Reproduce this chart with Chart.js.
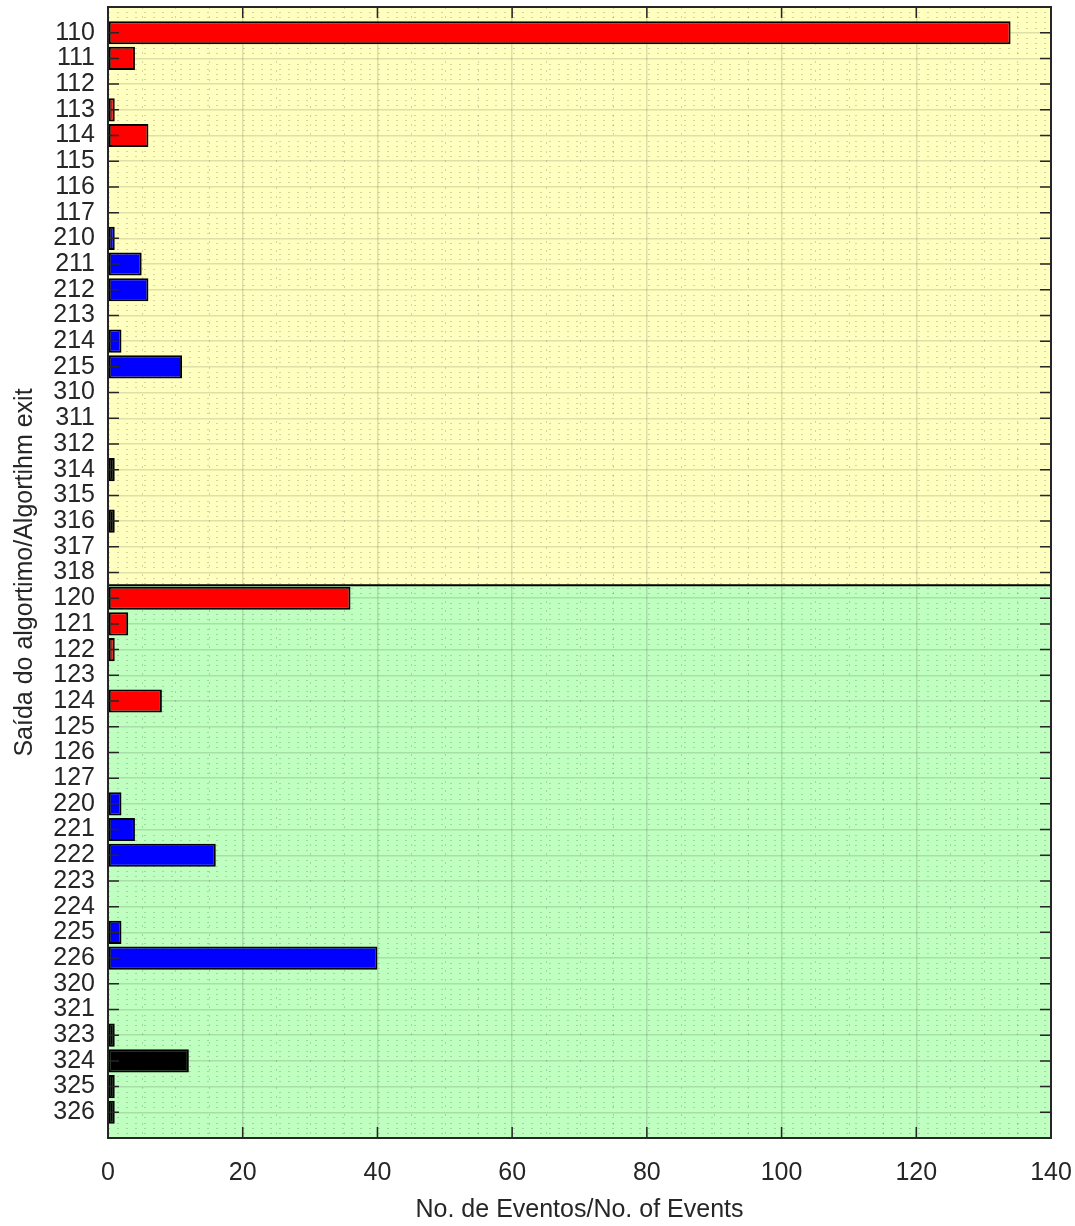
<!DOCTYPE html>
<html>
<head>
<meta charset="utf-8">
<script src="https://cdn.jsdelivr.net/npm/chart.js@4.4.0/dist/chart.umd.min.js"></script>
<style>
  html, body { margin: 0; padding: 0; background: #fff; }
  #wrap { width: 1075px; height: 1226px; position: relative; }
</style>
</head>
<body>
<div id="wrap"><canvas id="exitChart"></canvas></div>
<script>
// algorithm exit codes, top to bottom
var exitCodes = ['110','111','112','113','114','115','116','117',
                 '210','211','212','213','214','215',
                 '310','311','312','314','315','316','317','318',
                 '120','121','122','123','124','125','126','127',
                 '220','221','222','223','224','225','226',
                 '320','321','323','324','325','326'];
var eventCounts = [134,4,0,1,6,0,0,0,
                   1,5,6,0,2,11,
                   0,0,0,1,0,1,0,0,
                   36,3,1,0,8,0,0,0,
                   2,4,16,0,0,2,40,
                   0,0,1,12,1,1];
var xTicks = [0,20,40,60,80,100,120,140];
var topGroupSize = 22; // codes x1x sit in the yellow band, x2x in the green one

var textColor = '#262626';
var fontFamily = '"Liberation Sans", Arial, Helvetica, sans-serif';
var groupColors = { '1': '#ff0000', '2': '#0000ff', '3': '#000000' };

var points = eventCounts.map(function (v, i) { return { x: v, y: i + 1 }; });
var barColors = exitCodes.map(function (c) { return groupColors[c.charAt(0)]; });

var panelPlugin = {
    id: 'panels',
    beforeDraw: function (chart) {
        var ctx = chart.ctx, a = chart.chartArea;
        var split = chart.scales.y.getPixelForValue(topGroupSize + 0.5);
        ctx.save();
        ctx.fillStyle = '#ffffbf';
        ctx.fillRect(a.left, a.top, a.width, split - a.top);
        ctx.fillStyle = '#bfffbf';
        ctx.fillRect(a.left, split, a.width, a.bottom - split);
        ctx.restore();
    },
    beforeDatasetsDraw: function (chart) {
        // dotted minor grid
        var ctx = chart.ctx, a = chart.chartArea, xs = chart.scales.x, ys = chart.scales.y;
        ctx.save();
        ctx.strokeStyle = 'rgba(60,60,60,0.22)';
        ctx.lineWidth = 1;
        ctx.setLineDash([2, 7]);
        for (var v = 5; v < 140; v += 5) {
            if (v % 20 === 0) continue;
            var px = Math.round(xs.getPixelForValue(v)) + 0.5;
            ctx.beginPath(); ctx.moveTo(px, a.top); ctx.lineTo(px, a.bottom); ctx.stroke();
        }
        for (var k = 1; k < 220; k++) {
            if (k % 5 === 0) continue;
            var py = Math.round(ys.getPixelForValue(k / 5)) + 0.5;
            ctx.beginPath(); ctx.moveTo(a.left, py); ctx.lineTo(a.right, py); ctx.stroke();
        }
        ctx.restore();
    },
    afterDatasetsDraw: function (chart) {
        var ctx = chart.ctx, a = chart.chartArea, xs = chart.scales.x, ys = chart.scales.y;
        var split = ys.getPixelForValue(topGroupSize + 0.5);
        ctx.save();
        ctx.strokeStyle = '#000';
        ctx.lineWidth = 2;
        ctx.beginPath(); ctx.moveTo(a.left, split); ctx.lineTo(a.right, split); ctx.stroke();

        // inward ticks
        ctx.strokeStyle = textColor;
        ctx.lineWidth = 1.5;
        var len = 11;
        exitCodes.forEach(function (c, i) {
            var py = ys.getPixelForValue(i + 1);
            ctx.beginPath();
            ctx.moveTo(a.left, py); ctx.lineTo(a.left + len, py);
            ctx.moveTo(a.right, py); ctx.lineTo(a.right - len, py);
            ctx.stroke();
        });
        xTicks.forEach(function (v) {
            var px = xs.getPixelForValue(v);
            ctx.beginPath();
            ctx.moveTo(px, a.top); ctx.lineTo(px, a.top + len);
            ctx.moveTo(px, a.bottom); ctx.lineTo(px, a.bottom - len);
            ctx.stroke();
        });

        ctx.lineWidth = 2;
        ctx.strokeRect(a.left, a.top, a.width, a.height);
        ctx.restore();
    }
};

var ctx = document.getElementById('exitChart').getContext('2d');
new Chart(ctx, {
    type: 'bar',
    data: {
        labels: exitCodes,
        datasets: [{
            data: points,
            backgroundColor: barColors,
            borderColor: '#000',
            borderWidth: function (c) { return c.raw && c.raw.x > 0 ? 2 : 0; },
            borderSkipped: false,
            barPercentage: 0.9,
            categoryPercentage: 1
        }]
    },
    options: {
        indexAxis: 'y',
        responsive: true,
        maintainAspectRatio: false,
        animation: false,
        layout: { padding: { top: 7, right: 24, left: 0, bottom: 0 } },
        plugins: {
            legend: { display: false },
            tooltip: { enabled: false }
        },
        scales: {
            x: {
                type: 'linear',
                min: 0,
                max: 140,
                afterFit: function (s) { s.height = 88; s.paddingLeft = 0; s.paddingRight = 0; },
                ticks: {
                    stepSize: 20,
                    color: textColor,
                    padding: 20,
                    font: { family: fontFamily, size: 25 }
                },
                grid: { color: 'rgba(38,38,38,0.15)', lineWidth: 1.5, drawTicks: false },
                border: { display: false },
                title: {
                    display: true,
                    text: 'No. de Eventos/No. of Events',
                    color: textColor,
                    padding: { top: 0, bottom: 1 },
                    font: { family: fontFamily, size: 25 }
                }
            },
            y: {
                type: 'linear',
                reverse: true,
                offset: false,
                min: 0,
                max: 44,
                afterFit: function (s) { s.width = 108; s.paddingTop = 0; s.paddingBottom = 0; },
                afterBuildTicks: function (s) {
                    s.ticks = exitCodes.map(function (c, i) { return { value: i + 1 }; });
                },
                ticks: {
                    autoSkip: false,
                    color: textColor,
                    padding: 13,
                    font: { family: fontFamily, size: 25 },
                    callback: function (v) { return exitCodes[v - 1] || ''; }
                },
                grid: { color: 'rgba(38,38,38,0.15)', lineWidth: 1.5, drawTicks: false, offset: false },
                border: { display: false },
                title: {
                    display: true,
                    text: 'Saída do algortimo/Algortihm exit',
                    color: textColor,
                    padding: { top: 10, bottom: 0 },
                    font: { family: fontFamily, size: 25 }
                }
            }
        }
    },
    plugins: [panelPlugin]
});
</script>
</body>
</html>
